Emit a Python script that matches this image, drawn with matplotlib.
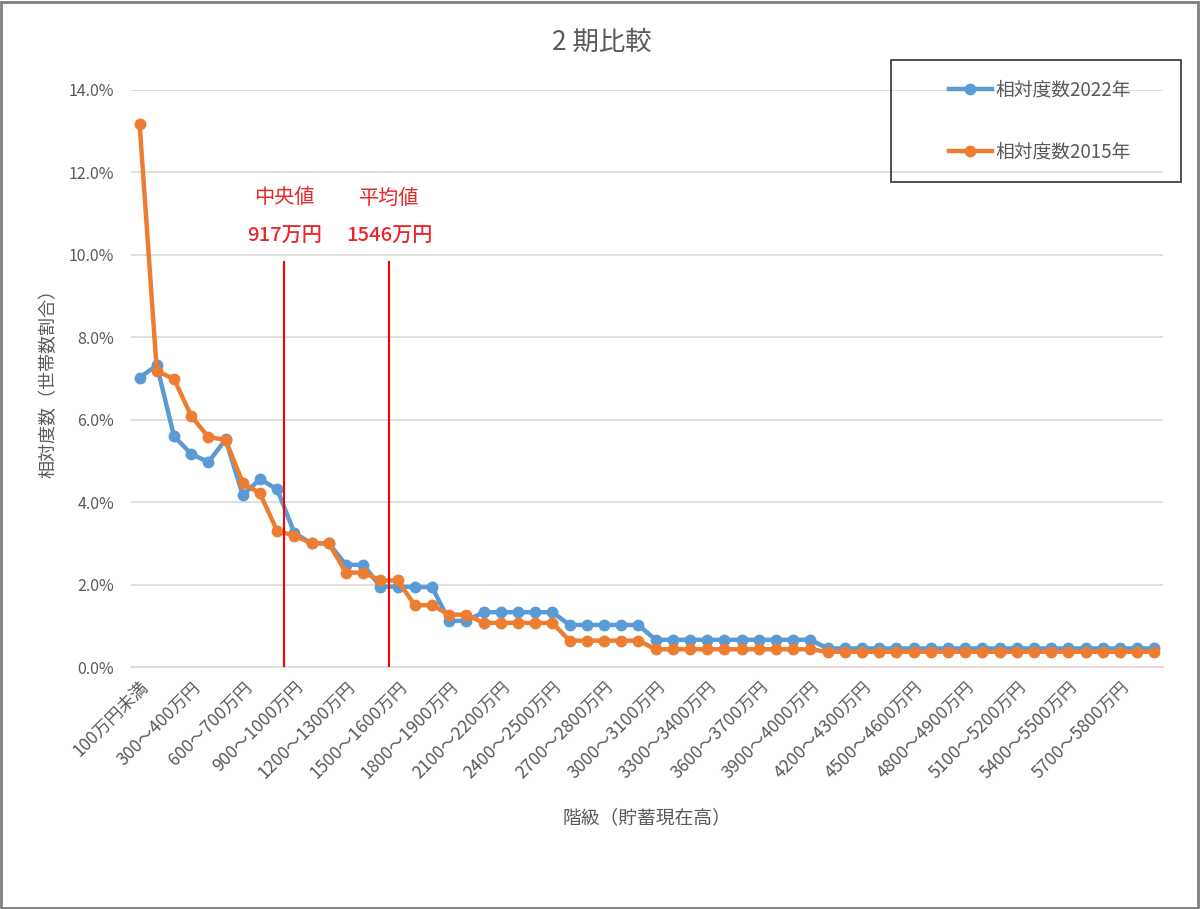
import matplotlib.pyplot as plt
from matplotlib.patches import Rectangle
from matplotlib.ticker import FuncFormatter, MultipleLocator

plt.rcParams['font.family'] = ['Noto Sans CJK JP', 'DejaVu Sans']

# 階級（貯蓄現在高）: 100万円未満, 100～200万円, ... 5900～6000万円
classes = ['100万円未満'] + [f'{k * 100}～{k * 100 + 100}万円' for k in range(1, 60)]

# 相対度数 (%)
rel_2022 = [
    7.02, 7.32, 5.60, 5.17, 4.97, 5.52, 4.17, 4.56, 4.31, 3.25,
    3.00, 3.00, 2.48, 2.48, 1.95, 1.95, 1.94, 1.94, 1.12, 1.12,
    1.33, 1.33, 1.33, 1.33, 1.33, 1.02, 1.02, 1.02, 1.02, 1.02,
    0.66, 0.66, 0.66, 0.66, 0.66, 0.66, 0.66, 0.66, 0.66, 0.66,
    0.45, 0.45, 0.45, 0.45, 0.45, 0.45, 0.45, 0.45, 0.45, 0.45,
    0.45, 0.45, 0.45, 0.45, 0.45, 0.45, 0.45, 0.45, 0.45, 0.45,
]
rel_2015 = [
    13.18, 7.18, 6.99, 6.09, 5.58, 5.51, 4.47, 4.21, 3.30, 3.19,
    3.00, 3.00, 2.29, 2.29, 2.10, 2.10, 1.50, 1.50, 1.27, 1.27,
    1.07, 1.07, 1.07, 1.07, 1.07, 0.64, 0.64, 0.64, 0.64, 0.64,
    0.43, 0.43, 0.43, 0.43, 0.43, 0.43, 0.43, 0.43, 0.43, 0.43,
    0.37, 0.37, 0.37, 0.37, 0.37, 0.37, 0.37, 0.37, 0.37, 0.37,
    0.37, 0.37, 0.37, 0.37, 0.37, 0.37, 0.37, 0.37, 0.37, 0.37,
]

# 中央値 / 平均値 markers (category position, top in %)
ref_names = ['中央値', '平均値']
ref_values = ['917万円', '1546万円']
ref_pos = [8.4, 14.5]
ref_top = 9.83

GRAY = '#595959'
BLUE = '#5B9BD5'
ORANGE = '#ED7D31'

fig = plt.figure(figsize=(12, 9.09), dpi=100)
ax = fig.add_axes([131 / 1200, 1 - 667 / 909, (1163 - 131) / 1200, (667 - 90) / 909])

x = list(range(len(classes)))
ax.plot(x, rel_2022, color=BLUE, lw=3.2, marker='o', ms=7.5, label='相対度数2022年', zorder=3)
ax.plot(x, rel_2015, color=ORANGE, lw=3.2, marker='o', ms=7.5, label='相対度数2015年', zorder=4)

for name, val, pos in zip(ref_names, ref_values, ref_pos):
    ax.plot([pos, pos], [0, ref_top], color='#FF0000', lw=1.5, zorder=5)
    ax.text(pos, 11.38, name, color='#E8262B', fontsize=14.5, ha='center', va='center')
    ax.text(pos, 10.44, val, color='#E8262B', fontsize=14.5, fontweight='medium',
            ha='center', va='center')

ax.set_xlim(-0.5, len(classes) - 0.5)
ax.set_ylim(0, 14)
ax.yaxis.set_major_locator(MultipleLocator(2))
ax.yaxis.set_major_formatter(FuncFormatter(lambda v, p: f'{v:.1f}%'))
ax.set_xticks(x[::3])
ax.set_xticklabels(classes[::3], rotation=45, ha='right', rotation_mode='anchor',
                   fontsize=12.5, color=GRAY)
ax.tick_params(axis='y', labelsize=11.5, labelcolor=GRAY, length=0, pad=12)
ax.tick_params(axis='x', length=0, pad=8)
ax.grid(axis='y', color='#D9D9D9', lw=1.2)
ax.set_axisbelow(True)
for side in ['top', 'right', 'left']:
    ax.spines[side].set_visible(False)
ax.spines['bottom'].set_color('#D9D9D9')
ax.spines['bottom'].set_linewidth(1.2)

ax.set_ylabel('相対度数（世帯数割合）', fontsize=13, color=GRAY, labelpad=8)
ax.set_xlabel('階級（貯蓄現在高）', fontsize=13.5, color=GRAY, labelpad=18)
fig.text(602 / 1200, 1 - 42 / 909, '2 期比較', fontsize=19, color=GRAY,
         ha='center', va='center')

# legend box
fig.patches.append(Rectangle((891 / 1200, 1 - 182 / 909), 290 / 1200, 122 / 909,
                             transform=fig.transFigure, fill=False,
                             edgecolor='#404040', lw=1.3))
fig.legend(loc='center', bbox_to_anchor=(1040 / 1200, 1 - 121 / 909),
           frameon=False, fontsize=13.5, labelcolor=GRAY, labelspacing=2.2,
           handlelength=2.3, handletextpad=0.2)

# chart border
fig.patches.append(Rectangle((0.001, 0.001), 0.997, 0.997, transform=fig.transFigure,
                             fill=False, edgecolor='#7F7F7F', lw=2))

fig.savefig('out.png', dpi=100)
